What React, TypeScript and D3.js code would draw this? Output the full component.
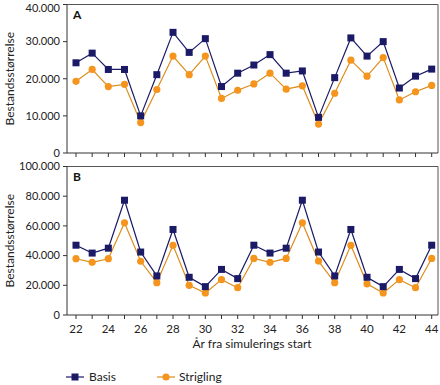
import * as d3 from 'd3';

// ── Data ──────────────────────────────────────────────────────────────────────
const YEARS = d3.range(22, 45);

const A_BASIS = [24300, 26900, 22500, 22500, 10000, 21100, 32500, 27100, 30800, 17900, 21500,
  23700, 26500, 21500, 22100, 9600, 20300, 31000, 26100, 30000, 17500, 20700, 22600];
const A_STRIG = [19300, 22500, 17900, 18500, 8200, 17100, 26100, 21100, 26100, 14700, 16900,
  18600, 21500, 17200, 18100, 7800, 16100, 25000, 20700, 25700, 14300, 16500, 18200];

const B_BASIS = [47000, 41700, 45000, 77300, 42400, 26300, 57600, 25400, 19100, 30700, 24500,
  47000, 41700, 45000, 77300, 42400, 26300, 57600, 25400, 19100, 30700, 24500, 47000];
const B_STRIG = [37900, 35500, 37900, 62100, 36200, 21800, 46900, 20000, 14800, 23800, 18400,
  38100, 35500, 38100, 62100, 36300, 21800, 46900, 21000, 14800, 23800, 18400, 38100];

const A_TICKS = [0, 10000, 20000, 30000, 40000];
const B_TICKS = [0, 20000, 40000, 60000, 80000, 100000];
const X_LABELS = [22, 24, 26, 28, 30, 32, 34, 36, 38, 40, 42, 44];

// ── Layout ────────────────────────────────────────────────────────────────────
const W = 440;
const H = 385;
const LEFT = 67;
const RIGHT = 438;
const NAVY = '#1b1a66';
const ORANGE = '#f5951e';
const ORANGE_LINE = '#dc8d1c';
const FONT = 'Lato, "Open Sans", sans-serif';

const x = d3.scaleLinear().domain([22, 44]).range([76, 431.7]);

const fmt = (v: number) => (v === 0 ? '0' : d3.format(',')(v).replace(/,/g, '.'));

function Panel({ top, bottom, max, ticks, basis, strig, label, showLabels }: {
  top: number; bottom: number; max: number; ticks: number[];
  basis: number[]; strig: number[]; label: string; showLabels: boolean;
}) {
  const y = d3.scaleLinear().domain([0, max]).range([bottom, top]);
  const line = d3.line<number>().x((_, i) => x(YEARS[i])).y(d => y(d));
  return (
    <g>
      {/* frame */}
      <line x1={LEFT} x2={RIGHT} y1={top} y2={top} stroke="#555" strokeWidth={1} />
      <line x1={RIGHT} x2={RIGHT} y1={top} y2={bottom} stroke="#555" strokeWidth={1} />
      <line x1={LEFT} x2={LEFT} y1={top} y2={bottom} stroke="#333" strokeWidth={1} />
      <line x1={LEFT} x2={RIGHT} y1={bottom} y2={bottom} stroke="#333" strokeWidth={1} />

      {ticks.map(t => (
        <g key={t}>
          <line x1={LEFT - 4} x2={LEFT} y1={y(t)} y2={y(t)} stroke="#333" />
          <text x={LEFT - 7} y={Math.max(y(t), 8)} dy="0.35em" textAnchor="end" fontSize={11} fill="#222" fontFamily={FONT}>
            {fmt(t)}
          </text>
        </g>
      ))}

      {YEARS.map(yr => (
        <line key={yr} x1={x(yr)} x2={x(yr)} y1={bottom} y2={bottom + 4} stroke="#333" />
      ))}
      {showLabels && X_LABELS.map(yr => (
        <text key={yr} x={x(yr)} y={bottom + 18} textAnchor="middle" fontSize={11.5} fill="#222" fontFamily={FONT}>
          {yr}
        </text>
      ))}

      <text x={LEFT + 6} y={top + 14} fontSize={12} fontWeight={700} fill="#111" fontFamily={FONT}>{label}</text>

      <path d={line(strig) ?? ''} fill="none" stroke={ORANGE_LINE} strokeWidth={1.2} />
      <path d={line(basis) ?? ''} fill="none" stroke={NAVY} strokeWidth={1.2} />

      {strig.map((v, i) => (
        <circle key={i} cx={x(YEARS[i])} cy={y(v)} r={3.6} fill={ORANGE} />
      ))}
      {basis.map((v, i) => (
        <rect key={i} x={x(YEARS[i]) - 3.5} y={y(v) - 3.5} width={7} height={7} fill={NAVY} />
      ))}

      <text
        transform={`translate(14,${(top + bottom) / 2}) rotate(-90)`}
        textAnchor="middle" fontSize={12} fill="#222" fontFamily={FONT}
      >
        Bestandsstørrelse
      </text>
    </g>
  );
}

export default function App() {
  return (
    <svg width={W} height={H} viewBox={`0 0 ${W} ${H}`}
      style={{ position: 'absolute', left: 0, top: 0, background: '#fff' }}>
      <Panel top={4.5} bottom={153} max={40000} ticks={A_TICKS}
        basis={A_BASIS} strig={A_STRIG} label="A" showLabels={false} />
      <Panel top={166.5} bottom={315} max={100000} ticks={B_TICKS}
        basis={B_BASIS} strig={B_STRIG} label="B" showLabels={true} />

      <text x={252} y={348} textAnchor="middle" fontSize={12} fill="#222" fontFamily={FONT}>
        År fra simulerings start
      </text>

      {/* Legend */}
      <g transform="translate(0,377)">
        <line x1={66} x2={84} y1={0} y2={0} stroke={NAVY} strokeWidth={1.2} />
        <rect x={71.5} y={-3.5} width={7} height={7} fill={NAVY} />
        <text x={89} y={0} dy="0.35em" fontSize={12} fill="#222" fontFamily={FONT}>Basis</text>
        <line x1={157} x2={175} y1={0} y2={0} stroke={ORANGE_LINE} strokeWidth={1.2} />
        <circle cx={166} cy={0} r={3.6} fill={ORANGE} />
        <text x={179} y={0} dy="0.35em" fontSize={12} fill="#222" fontFamily={FONT}>Strigling</text>
      </g>
    </svg>
  );
}
